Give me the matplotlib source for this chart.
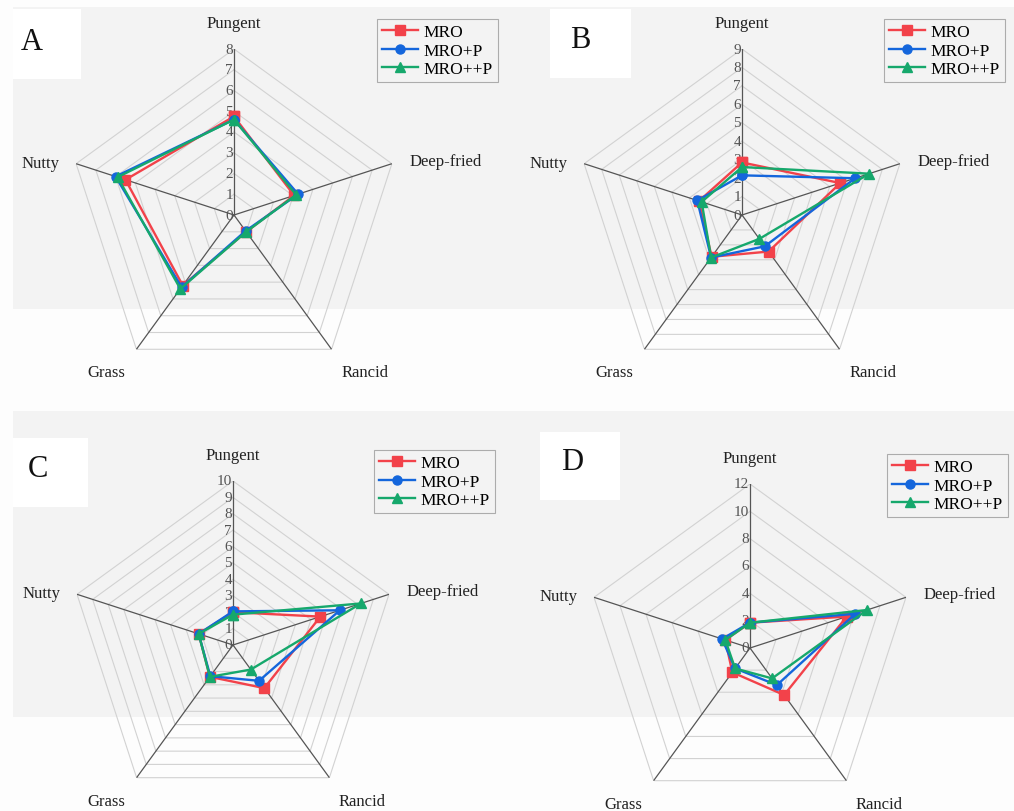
import numpy as np
import matplotlib
matplotlib.use("Agg")
import matplotlib.pyplot as plt
from matplotlib.patches import Rectangle

plt.rcParams['font.family'] = ['Liberation Serif', 'DejaVu Serif']

categories = ['Pungent', 'Deep-fried', 'Rancid', 'Grass', 'Nutty']
series_names = ['MRO', 'MRO+P', 'MRO++P']

# sensory scores per panel, in category order
a_mro = [4.75, 3.05, 1.0, 4.2, 5.5]
a_mro_p = [4.6, 3.25, 0.95, 4.3, 6.0]
a_mro_pp = [4.6, 3.15, 1.0, 4.4, 5.9]

b_mro = [2.85, 5.6, 2.45, 2.8, 2.45]
b_mro_p = [2.15, 6.45, 2.1, 2.85, 2.55]
b_mro_pp = [2.6, 7.25, 1.6, 2.85, 2.3]

c_mro = [2.0, 5.6, 3.25, 2.4, 2.2]
c_mro_p = [2.05, 6.85, 2.7, 2.35, 2.2]
c_mro_pp = [1.85, 8.2, 1.85, 2.4, 2.2]

d_mro = [1.85, 7.45, 4.25, 2.2, 1.9]
d_mro_p = [1.85, 8.1, 3.35, 1.85, 2.15]
d_mro_pp = [1.85, 9.0, 2.75, 1.85, 1.9]

panel_letters = ['A', 'B', 'C', 'D']
panel_max = [8, 9, 10, 12]
panel_step = [1, 1, 1, 2]
panel_data = [
    [a_mro, a_mro_p, a_mro_pp],
    [b_mro, b_mro_p, b_mro_pp],
    [c_mro, c_mro_p, c_mro_pp],
    [d_mro, d_mro_p, d_mro_pp],
]

colors = ['#f2424a', '#1466dc', '#16a86c']
markers = ['s', 'o', '^']

W, H = 1014, 812
fig = plt.figure(figsize=(W / 100, H / 100), dpi=100)
fig.patch.set_facecolor('#fdfdfd')


def px_rect(x0, y0, x1, y1, color, z):
    # rectangle given in pixel coords measured from the top-left corner
    r = Rectangle((x0 / W, 1 - y1 / H), (x1 - x0) / W, (y1 - y0) / H,
                  transform=fig.transFigure, facecolor=color,
                  edgecolor='none', zorder=z)
    fig.patches.append(r)


# grey bands behind each row of charts
px_rect(13, 8, W, 310, '#f3f3f3', -10)
px_rect(13, 412, W, 718, '#f3f3f3', -10)

# centre and radius (pixels) of each radar
centers = [(234, 216, 166), (742, 216, 166), (233, 646, 164), (750, 649, 164)]
letter_boxes = [(13, 10, 81, 80), (550, 10, 631, 79), (13, 439, 88, 508), (540, 433, 620, 501)]
letter_pos = [(32, 42), (580, 41), (38, 470), (572, 463)]
legend_corner = [(498, 20), (1005, 20), (495, 451), (1008, 455)]

angles = np.linspace(0, 2 * np.pi, len(categories), endpoint=False)
closed = np.append(angles, angles[0])

# label offsets in pixels from each spoke tip
label_offsets = [((0, 26), 'center'), ((18, 3), 'left'), ((33, -23), 'center'),
                 ((-30, -23), 'center'), ((-17, 1), 'right')]

for i in range(4):
    cx, cy, R = centers[i]
    ax = fig.add_axes([(cx - R) / W, (H - cy - R) / H, 2 * R / W, 2 * R / H],
                      projection='polar')
    ax.set_facecolor('none')
    ax.set_theta_offset(np.pi / 2)
    ax.set_theta_direction(-1)
    rmax = panel_max[i]
    ax.set_ylim(0, rmax)
    ax.grid(False)
    ax.spines['polar'].set_visible(False)
    ax.set_xticks([])
    ax.set_yticks([])

    # pentagon grid
    levels = np.arange(panel_step[i], rmax + 0.01, panel_step[i])
    for lvl in levels:
        ax.plot(closed, [lvl] * len(closed), color='#d2d2d2', lw=0.8, zorder=1)
    for a in angles:
        ax.plot([a, a], [0, rmax], color='#555555', lw=0.9, zorder=2)

    # scale numbers along the top spoke
    for lvl in np.append(0, levels):
        ax.annotate(str(int(lvl)), (0, lvl), xytext=(-1, 0), textcoords='offset pixels',
                    ha='right', va='center', fontsize=11, color='#555555')

    for k, cat in enumerate(categories):
        off, ha = label_offsets[k]
        ax.annotate(cat, (angles[k], rmax), xytext=off, textcoords='offset pixels',
                    ha=ha, va='center', fontsize=12, color='#222222',
                    annotation_clip=False)

    for s in range(3):
        vals = panel_data[i][s]
        ax.plot(closed, vals + vals[:1], color=colors[s], lw=1.7, marker=markers[s],
                markersize=6.5, label=series_names[s], zorder=3 + s, clip_on=False)

    lx, ly = legend_corner[i]
    leg = ax.legend(loc='upper right', bbox_to_anchor=(lx / W, 1 - ly / H),
                    bbox_transform=fig.transFigure, fontsize=12.5, frameon=True,
                    fancybox=False, handlelength=2.1, handletextpad=0.3,
                    labelspacing=0.12, borderpad=0.3, borderaxespad=0)
    leg.get_frame().set_edgecolor('#9a9a9a')
    leg.get_frame().set_linewidth(0.8)
    leg.get_frame().set_facecolor('#f3f3f3')

    x0, y0, x1, y1 = letter_boxes[i]
    px_rect(x0, y0, x1, y1, 'white', -5)
    lxp, lyp = letter_pos[i]
    fig.text(lxp / W, 1 - lyp / H, panel_letters[i], fontsize=22,
             ha='center', va='center', color='#111111')

fig.savefig('out.png', dpi=100, facecolor=fig.get_facecolor())
